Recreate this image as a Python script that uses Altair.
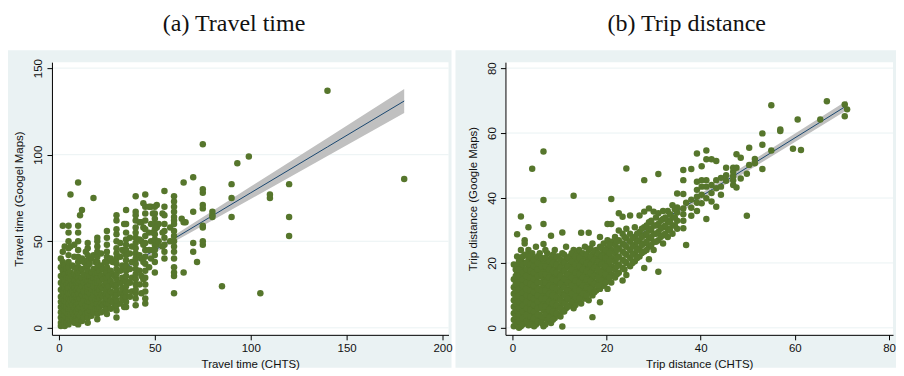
import altair as alt
import pandas as pd

# ---------------- data ----------------
# Panel (a): travel time, columns of (CHTS minutes, [Google Maps minutes ...])
TT_COLS = [
    (1, [1, 3, 6, 9, 12, 15, 18, 22, 26, 30, 35, 40]),
    (2, [2, 5, 8, 11, 14, 17, 20, 24, 28, 33, 38, 44, 59]),
    (3, [1, 4, 7, 10, 13, 16, 19, 23, 27, 31, 36, 47]),
    (4, [3, 6, 9, 12, 15, 18, 21, 25, 29, 34]),
    (5, [2, 5, 8, 11, 14, 17, 20, 23, 26, 29, 32, 35, 38, 42, 46, 50, 55, 59]),
    (6, [4, 8, 12, 16, 20, 24, 28, 32, 47, 77]),
    (7, [5, 9, 13, 17, 21, 25, 30, 36]),
    (8, [3, 7, 11, 15, 19, 23, 27, 31, 35, 41, 48]),
    (9, [6, 10, 14, 18, 22, 26, 30, 34]),
    (10, [2, 5, 8, 11, 14, 17, 20, 23, 26, 29, 32, 35, 38, 41, 45, 50, 55, 59, 84]),
    (11, [7, 12, 17, 22, 27, 33, 65]),
    (12, [4, 9, 14, 19, 24, 29, 34, 40, 68]),
    (13, [6, 11, 16, 21, 26, 31, 38]),
    (14, [8, 13, 18, 23, 28, 35, 44]),
    (15, [3, 6, 9, 12, 15, 18, 21, 24, 27, 30, 33, 36, 39, 42, 46, 49]),
    (16, [10, 15, 20, 25, 30, 37]),
    (17, [7, 12, 17, 22, 27, 32, 40]),
    (18, [9, 14, 19, 24, 29, 34, 42, 75]),
    (19, [11, 16, 21, 26, 31, 38]),
    (20, [5, 8, 11, 14, 17, 20, 23, 26, 29, 32, 35, 38, 41, 44, 47, 50, 52]),
    (21, [12, 17, 22, 27, 33]),
    (22, [9, 14, 19, 24, 30, 36, 43]),
    (23, [13, 18, 23, 28, 34]),
    (24, [10, 15, 20, 25, 31, 38]),
    (25, [8, 11, 14, 17, 20, 23, 26, 29, 32, 35, 38, 41, 44, 48, 52, 56]),
    (26, [14, 19, 24, 30]),
    (27, [11, 16, 21, 27, 33, 40]),
    (28, [15, 20, 25, 31, 38]),
    (29, [12, 18, 24, 30]),
    (30, [6, 10, 13, 16, 19, 22, 25, 28, 31, 34, 37, 40, 43, 46, 50, 54, 57, 62, 65]),
    (32, [14, 20, 26, 33, 41, 49]),
    (33, [17, 23, 29, 36, 45]),
    (34, [12, 19, 27, 35, 44, 60]),
    (35, [12, 15, 18, 21, 24, 27, 30, 33, 36, 39, 42, 45, 48, 51, 55, 60, 68]),
    (37, [18, 26, 34, 43, 52]),
    (38, [21, 29, 38, 47]),
    (40, [13, 17, 20, 22, 25, 28, 31, 34, 37, 40, 43, 46, 49, 52, 55, 58, 62, 65, 67, 76]),
    (42, [25, 33, 42, 51, 61]),
    (43, [20, 30, 40, 50, 61]),
    (44, [28, 38, 48, 58, 72]),
    (45, [14, 17, 21, 25, 29, 33, 37, 41, 45, 49, 53, 57, 62, 66, 70, 77]),
    (47, [35, 45, 55, 70]),
    (48, [40, 50, 60, 70]),
    (49, [45, 55, 66]),
    (50, [32, 38, 42, 45, 48, 51, 54, 57, 60, 63, 66, 70]),
    (51, [48, 58, 71]),
    (52, [50, 60]),
    (54, [47, 55, 66]),
    (55, [40, 44, 48, 52, 56, 60, 65, 70, 79]),
    (58, [50, 58]),
    (60, [20, 30, 32, 35, 40, 44, 47, 50, 53, 56, 60, 62, 64, 67, 70, 73, 76]),
    (64, [63]),
    (65, [32, 61, 84]),
    (66, [61]),
    (70, [44, 49, 67, 87]),
    (72, [38]),
    (75, [48, 50, 58, 59, 69, 71, 78, 80, 106]),
    (80, [64, 65, 67]),
    (85, [24]),
    (90, [64, 75, 83]),
    (93, [95]),
    (99, [99]),
    (105, [20]),
    (110, [75, 77]),
    (120, [53, 64, 83]),
    (140, [137]),
    (180, [86]),
]

# Panel (b): trip distance, columns of (CHTS miles, [Google Maps miles ...])
TD_COLS = [
    (0.3, [0.5, 2.5, 4.5, 6.5, 8.5, 10.5, 12.5, 15, 19.5]),
    (1.0, [1, 3, 5, 7, 9, 11, 13, 15, 17, 19.4, 22, 28.8]),
    (1.8, [0.5, 2.5, 4.5, 6.5, 8.5, 10.5, 12.5, 14.5, 16.5, 18.5, 21, 24, 34.3]),
    (2.6, [1.5, 3.5, 5.5, 7.5, 9.5, 11.5, 13.5, 15.5, 17.5, 20, 22.5, 26, 27]),
    (3.4, [0.8, 3, 5, 7, 9, 11, 13, 15, 17, 19, 21, 24, 31]),
    (4.2, [2, 4, 6, 8, 10, 12, 14, 16, 18, 20, 23, 49]),
    (5.0, [1, 3, 5, 7, 9, 11, 13, 15, 17, 19, 21.5, 25]),
    (5.8, [2, 4, 6, 8, 10, 12, 14, 16, 18, 20, 23]),
    (6.6, [0.5, 3, 5.5, 8, 10.5, 13, 15.5, 18, 20.5, 25.8, 32, 39.4, 54.3]),
    (7.4, [2.5, 5, 7.5, 10, 12.5, 15, 17.5, 20, 23]),
    (8.2, [1.5, 4, 6.5, 9, 11.5, 14, 16.5, 19, 21.5, 28.4]),
    (9.0, [3, 5.5, 8, 10.5, 13, 15.5, 18, 20.5, 24]),
    (9.8, [4, 6.5, 9, 11.5, 14, 16.5, 19, 22]),
    (10.6, [0.4, 5, 7.5, 10, 12.5, 15, 17.5, 20, 23, 29.4]),
    (11.4, [6, 8.5, 11, 13.5, 16, 18.5, 21, 25]),
    (12.2, [7, 9.5, 12, 14.5, 17, 19.5, 22]),
    (13.0, [6, 8.5, 11, 13.5, 16, 18.5, 21, 24, 40.7]),
    (13.8, [8, 10.5, 13, 15.5, 18, 20.5, 23.5]),
    (14.6, [7.5, 10, 12.5, 15, 17.5, 20, 22.5, 29.3]),
    (15.4, [9, 11.5, 14, 16.5, 19, 21.5, 25]),
    (16.2, [8.5, 11, 13.5, 16, 18.5, 21, 24, 29.3]),
    (17.0, [3.3, 10, 12.5, 15, 17.5, 20, 22.5, 26]),
    (17.8, [11.5, 14, 16.5, 19, 21.5, 24]),
    (18.6, [7.9, 12, 14.5, 17, 19.5, 22, 25, 28]),
    (19.4, [13, 15.5, 18, 20.5, 23, 26]),
    (20.2, [12, 14.5, 17, 19.5, 22, 24.5, 27, 32]),
    (21.0, [14, 16.5, 19, 21.5, 24, 26.5, 32, 39.7]),
    (21.8, [15.5, 18, 20.5, 23, 25.5, 28]),
    (22.6, [17, 19.5, 22, 24.5, 27, 30, 35.3]),
    (23.4, [14.6, 18.5, 21, 23.5, 26, 29, 34.2]),
    (24.2, [16.3, 20, 22.5, 25, 27.5, 30.5, 49.1]),
    (25.0, [19, 21.5, 24, 26.5, 29, 34.6]),
    (26.0, [20.5, 23, 25.5, 28, 31]),
    (27.0, [22, 24.5, 27, 29.5, 34.6]),
    (28.0, [18.4, 23.5, 26, 28.5, 31, 35.8, 45.5]),
    (29.0, [21.1, 25, 27.5, 30, 32.5, 36.8]),
    (30.0, [24, 26.5, 29, 31.5, 35.8]),
    (31.0, [17.3, 27, 29.5, 32, 35.3, 47.4]),
    (32.0, [26, 28.5, 31, 33.5, 36]),
    (33.0, [28, 30.5, 33, 36]),
    (34.0, [29, 31.5, 34, 37.8]),
    (35.0, [30.5, 33, 35.5, 37.1, 41.4]),
    (36.3, [30.7, 33, 35, 36.8, 41.2, 45.5, 48.6]),
    (36.9, [25.5, 38.5]),
    (38.0, [34.5, 37, 39.5, 48.9]),
    (39.2, [36, 38.5, 40.4, 42.5, 45, 53.7]),
    (40.2, [38.4, 41, 43.5, 45.5, 49.8]),
    (41.2, [33.5, 39.9, 43.5, 45.5, 51.9, 54.6]),
    (42.3, [38.9, 41.5, 44, 51.9]),
    (43.3, [37.3, 43, 45.5, 51.4]),
    (44.3, [41, 43.5, 46.2]),
    (45.4, [45.3, 47, 49.3]),
    (46.9, [44, 45.5, 46.8, 48.1, 49.3]),
    (47.6, [43.2, 49.3, 53.5]),
    (48.5, [46, 52.4]),
    (49.8, [34.5, 47.5]),
    (50.3, [50.2, 55.5]),
    (51.5, [50.7, 52]),
    (53.1, [48.9, 56.4, 59.9]),
    (55.0, [54.6, 68.6]),
    (56.9, [60.6, 61.1]),
    (59.6, [55.2]),
    (60.6, [64.2]),
    (61.3, [54.8]),
    (65.4, [64.2]),
    (66.8, [69.8]),
    (70.6, [68.8, 65.2]),
    (71.1, [67.3]),
]

# Further trips inside the dense short-distance cloud of panel (b)
TD_FILL = [
    (0.7, [1.5, 3.5, 5.5, 7.5, 9.5, 11.5, 13.5, 16, 18]),
    (1.4, [0, 2, 4, 6, 8, 10, 12, 14, 16, 18, 20.5]),
    (2.2, [1, 3, 5, 7, 9, 11, 13, 15, 17, 19.5, 22]),
    (3.0, [2, 4, 6, 8, 10, 12, 14, 16, 18, 20, 22.5]),
    (3.8, [1, 3.5, 5.5, 7.5, 9.5, 11.5, 13.5, 15.5, 17.5, 19.5, 22]),
    (4.6, [0.5, 3, 5, 7, 9, 11, 13, 15, 17, 19, 21]),
    (5.4, [2, 4, 6, 8, 10, 12, 14, 16, 18, 20, 22]),
    (6.2, [1.5, 3.5, 6.5, 9, 11.5, 14, 16.5, 19, 21.5]),
    (7.0, [1, 4, 6.5, 9, 11.5, 14, 16.5, 19, 21.5, 24]),
    (7.8, [3, 5.5, 8, 10.5, 13, 15.5, 18, 20.5]),
    (8.6, [2.5, 5, 7.5, 10, 12.5, 15, 17.5, 20, 22.5]),
    (9.4, [4.5, 7, 9.5, 12, 14.5, 17, 19.5, 22]),
    (10.2, [3.5, 6, 8.5, 11, 13.5, 16, 18.5, 21]),
    (11.0, [5, 7.5, 10, 12.5, 15, 17.5, 20, 22.5]),
    (11.8, [6.5, 9, 11.5, 14, 16.5, 19, 21.5]),
    (12.6, [8, 10.5, 13, 15.5, 18, 20.5, 23]),
    (13.4, [7, 9.5, 12, 14.5, 17, 19.5, 22]),
    (14.2, [9, 11.5, 14, 16.5, 19, 21.5, 24]),
    (15.0, [10.5, 13, 15.5, 18, 20.5, 23]),
    (15.8, [10, 12.5, 15, 17.5, 20, 22.5]),
    (16.6, [12, 14.5, 17, 19.5, 22, 24.5]),
    (17.4, [11, 13.5, 16, 18.5, 21, 23.5]),
    (18.2, [13, 15.5, 18, 20.5, 23]),
    (19.0, [14.5, 17, 19.5, 22, 24.5]),
    (19.8, [14, 16.5, 19, 21.5, 24]),
    (20.6, [15.5, 18, 20.5, 23, 25.5]),
    (22.2, [16.5, 19, 21.5, 24, 26.5]),
    (23.8, [18, 20.5, 23, 25.5, 28]),
    (25.5, [20, 22.5, 25, 27.5]),
    (26.5, [21.5, 24, 26.5, 29]),
    (27.5, [23, 25.5, 28, 30.5]),
    (28.5, [24, 26.5, 29, 31.5]),
    (29.5, [25.5, 28, 30.5, 33]),
    (30.5, [26.5, 29, 31.5, 34]),
    (31.5, [28, 30.5, 33]),
    (32.5, [29, 31.5, 34]),
    (33.5, [30, 32.5, 35]),
    (34.5, [31.5, 34, 36.5]),
]

# Linear fit with 95% CI
FIT_A_X = [1, 25, 60, 100, 140, 180]
FIT_A_Y = [12.5, 28.4, 51.5, 78.0, 104.5, 131.0]
FIT_A_LO = [11.1, 27.5, 49.7, 74.4, 99.3, 124.1]
FIT_A_HI = [13.9, 29.3, 53.3, 81.6, 109.7, 137.9]

FIT_B_X = [0.3, 8, 20, 35, 50, 71.1]
FIT_B_Y = [4.5, 11.4, 22.3, 35.9, 49.5, 68.5]
FIT_B_LO = [3.9, 11.0, 21.7, 35.0, 48.3, 67.1]
FIT_B_HI = [5.1, 11.9, 22.9, 36.8, 50.6, 70.0]

TT_XTICKS = [0, 50, 100, 150, 200]
TT_YTICKS = [0, 50, 100, 150]
TD_XTICKS = [0, 20, 40, 60, 80]
TD_YTICKS = [0, 20, 40, 60, 80]

# ---------------- style ----------------
BG = "#EAF2F3"
GREEN = "#56762C"
NAVY = "#1A476F"
CI = "#C0C0C0"


def panel(cols, fx, fy, flo, fhi, xticks, yticks, xdom, ydom,
          xtitle, ytitle, title, W, H, lext, rext, tdx):
    pts = pd.DataFrame({
        "x": [x for x, ys in cols for _ in ys],
        "y": [y for _, ys in cols for y in ys],
    })
    fit = pd.DataFrame({"x": fx, "y": fy, "lo": flo, "hi": fhi})
    grid = pd.DataFrame({"y": yticks})
    one = pd.DataFrame({"k": [0]})
    xs = alt.Scale(domain=xdom, nice=False, zero=False)
    ys = alt.Scale(domain=ydom, nice=False, zero=False)
    xax = alt.Axis(values=xticks, title=xtitle, zindex=2)
    yax = alt.Axis(values=yticks, title=ytitle, zindex=2)

    outer = alt.Chart(one).mark_rect(fill=BG, strokeWidth=0).encode(
        x=alt.value(-lext), x2=alt.value(W + rext),
        y=alt.value(-12), y2=alt.value(H + 33))
    inner = alt.Chart(one).mark_rect(fill="white", strokeWidth=0).encode(
        x=alt.value(0), x2=alt.value(W), y=alt.value(0), y2=alt.value(H))
    gridl = alt.Chart(grid).mark_rule(color=BG, strokeWidth=1).encode(
        y=alt.Y("y:Q", scale=ys, axis=yax), x=alt.value(0), x2=alt.value(W))
    band = alt.Chart(fit).mark_area(color=CI, opacity=1).encode(
        x=alt.X("x:Q", scale=xs, axis=xax),
        y=alt.Y("lo:Q", scale=ys, axis=yax), y2="hi:Q")
    line = alt.Chart(fit).mark_line(color=NAVY, strokeWidth=1).encode(
        x=alt.X("x:Q", scale=xs, axis=xax),
        y=alt.Y("y:Q", scale=ys, axis=yax))
    dots = alt.Chart(pts).mark_circle(color=GREEN, size=42, opacity=1).encode(
        x=alt.X("x:Q", scale=xs, axis=xax),
        y=alt.Y("y:Q", scale=ys, axis=yax))
    return alt.layer(outer, inner, gridl, band, line, dots).properties(
        width=W, height=H,
        title=alt.TitleParams(title, dx=tdx))


pa = panel(TT_COLS, FIT_A_X, FIT_A_Y, FIT_A_LO, FIT_A_HI, TT_XTICKS, TT_YTICKS,
           [-3.65, 203.1], [-4.04, 153.46],
           "Travel time (CHTS)", "Travel time (Googel Maps)", "(a) Travel time",
           397, 273, 44, 3, 4)
pb = panel(TD_COLS + TD_FILL, FIT_B_X, FIT_B_Y, FIT_B_LO, FIT_B_HI, TD_XTICKS, TD_YTICKS,
           [-1.485, 80.85], [-2.154, 81.846],
           "Trip distance (CHTS)", "Trip distance (Google Maps)", "(b) Trip distance",
           388, 273, 50, 3, 11)

chart = alt.hconcat(pa, pb, spacing=3).properties(
    padding={"top": 4, "left": 0, "right": 0, "bottom": 0}, background="white"
).configure_view(stroke=None).configure_axis(
    zindex=2, grid=False, domainColor="#000", domainWidth=1,
    tickColor="#000", tickSize=5, tickWidth=1,
    labelFont="Liberation Sans", labelFontSize=11.5, labelColor="#111",
    titleFont="Liberation Sans", titleFontSize=11.5, titleFontWeight="normal",
    titleColor="#111", labelPadding=3,
).configure_axisY(
    labelAngle=270, labelAlign="center", labelBaseline="bottom", titlePadding=8
).configure_axisX(titlePadding=4).configure_title(
    font="Liberation Serif", fontSize=24, fontWeight="normal", color="#111",
    anchor="middle", frame="bounds", offset=14
)

chart.save("out.html", embed_options={"renderer": "svg", "actions": False})
